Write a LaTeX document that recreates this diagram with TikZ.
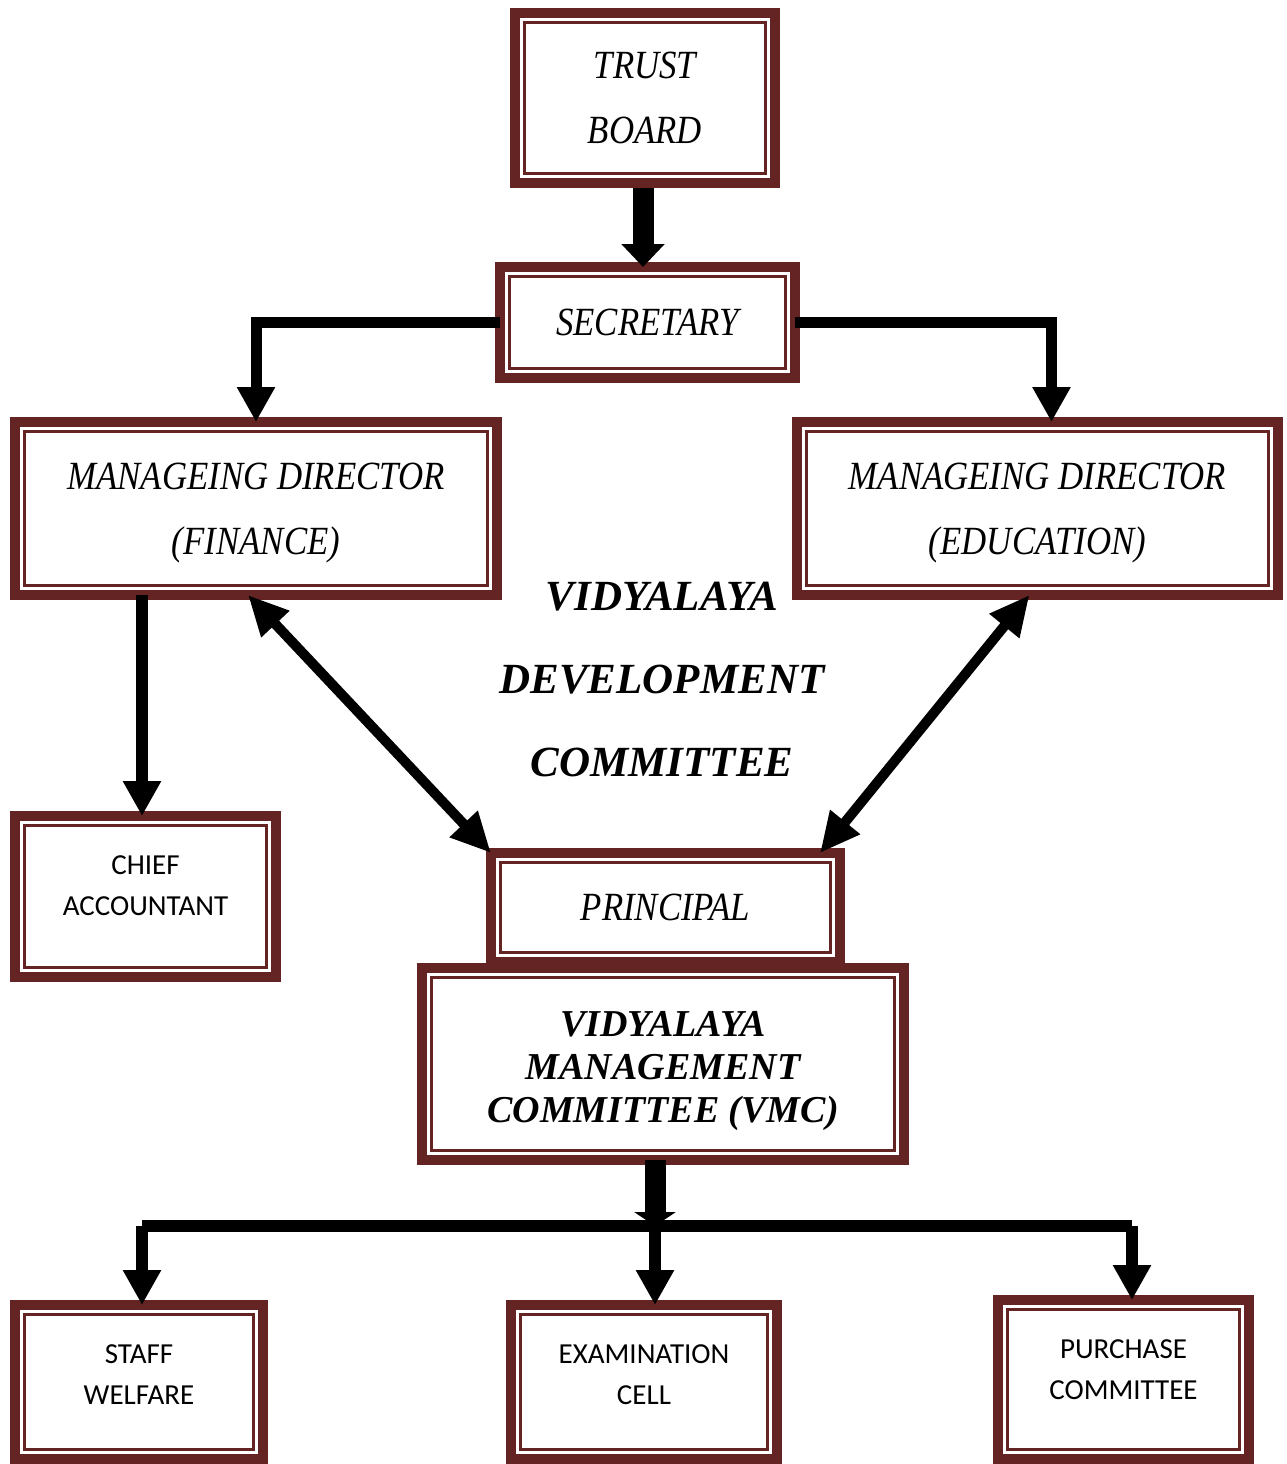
\documentclass[tikz,border=0pt]{standalone}
\usepackage{fontspec}
\usepackage{tikz}
\usetikzlibrary{arrows.meta}
\setmainfont{Liberation Serif}
\newfontfamily\boxserif[FakeStretch=0.87]{Liberation Serif}
\newfontfamily\boxsans{Carlito}
\definecolor{boxbrown}{RGB}{99,36,35}

\begin{document}
\begin{tikzpicture}[x=0.5pt, y=-0.5pt,
    orgbox/.style={draw=boxbrown, line width=5pt, outer sep=0pt, inner sep=0pt, align=center,
        path picture={\draw[boxbrown, line width=1.5pt]
            ([shift={(4.75pt,-4.75pt)}]path picture bounding box.north west) rectangle
            ([shift={(-4.75pt,4.75pt)}]path picture bounding box.south east);}},
    itext/.style={font=\boxserif\itshape\fontsize{20}{32.5}\selectfont, align=center},
    bitext/.style={font=\bfseries\itshape\fontsize{19}{21.5}\selectfont, align=center},
    sanstext/.style={font=\boxsans\fontsize{14.5}{20.5}\selectfont, align=center},
    fatarrow/.style={line width=10.5pt, -{Triangle[width=21pt, length=11.5pt]}},
    linkarrow/.style={line width=5.5pt, -{Triangle[width=18pt, length=17.5pt]}},
    twoway/.style={line width=5pt,
        {Triangle[width=18pt, length=20pt]}-{Triangle[width=18pt, length=20pt]}}]
    \useasboundingbox (0,0) rectangle (1287,1464);

    \node[orgbox, itext, minimum width=130pt, minimum height=85pt]
        (trust) at (645,98) {TRUST\\BOARD};
    \node[orgbox, itext, minimum width=147.5pt, minimum height=55.5pt]
        (secretary) at (647.5,322.5) {SECRETARY};
    \node[orgbox, minimum width=241pt, minimum height=86.5pt,
        label={[itext, yshift=-2.5pt]center:MANAGEING DIRECTOR\\(FINANCE)}]
        (mdfin) at (256,508.5) {};
    \node[orgbox, minimum width=240.5pt, minimum height=86.5pt,
        label={[itext, yshift=-2.5pt]center:MANAGEING DIRECTOR\\(EDUCATION)}]
        (mdedu) at (1037.5,508.5) {};
    \node[orgbox, minimum width=130.5pt, minimum height=80.5pt,
        label={[sanstext, yshift=5.5pt]center:CHIEF\\ACCOUNTANT}]
        (chief) at (145.5,896.5) {};
    \node[orgbox, minimum width=241pt, minimum height=96pt,
        label={[bitext, yshift=-3.5pt]center:VIDYALAYA\\MANAGEMENT\\COMMITTEE (VMC)}]
        (vmc) at (663,1064) {};
    \node[orgbox, itext, minimum width=174.5pt, minimum height=54.5pt]
        (principal) at (665.5,907.5) {PRINCIPAL};
    \node[align=center, font=\bfseries\itshape\fontsize{21.5}{41.5}\selectfont]
        (vdc) at (662,680) {VIDYALAYA\\DEVELOPMENT\\COMMITTEE};
    \node[orgbox, minimum width=124pt, minimum height=77pt,
        label={[sanstext, yshift=3.5pt]center:STAFF\\WELFARE}]
        (staff) at (139,1382) {};
    \node[orgbox, minimum width=133pt, minimum height=77pt,
        label={[sanstext, yshift=3.5pt]center:EXAMINATION\\CELL}]
        (exam) at (644,1382) {};
    \node[orgbox, minimum width=125.5pt, minimum height=79.5pt,
        label={[sanstext, yshift=5pt]center:PURCHASE\\COMMITTEE}]
        (purchase) at (1123.5,1379.5) {};

    \draw[fatarrow, shorten <=2.5pt]
        ([xshift=-1pt]trust.south) -- ([xshift=-1pt]trust.south |- secretary.north);
    \draw[linkarrow]
        (secretary.west) -| (mdfin.north);
    \draw[linkarrow]
        (secretary.east) -| ([xshift=7pt]mdedu.north);
    \draw[linkarrow, line width=6pt]
        ([xshift=-1.75pt]chief.north |- mdfin.south) -- ([xshift=-1.75pt]chief.north);
    \draw[twoway]
        ([xshift=-4pt]mdfin.south) -- (principal.north west);
    \draw[twoway]
        ([xshift=-4pt]mdedu.south) -- ([xshift=-10pt]principal.north east);

    \coordinate (busleft) at (142,1226);
    \coordinate (busmid) at (655,1226);
    \coordinate (busright) at (1132,1226);
    \draw[line width=6pt]
        (busleft) -- (busright);
    \draw[line width=10.5pt, -{Triangle[width=20.5pt, length=7pt]}]
        (vmc.south -| busmid) -- (busmid);
    \foreach \tap/\unit in {busleft/staff, busmid/exam, busright/purchase}{
        \draw[linkarrow, line width=6pt]
            (\tap) -- (\tap |- \unit.north);
    }
\end{tikzpicture}
\end{document}
